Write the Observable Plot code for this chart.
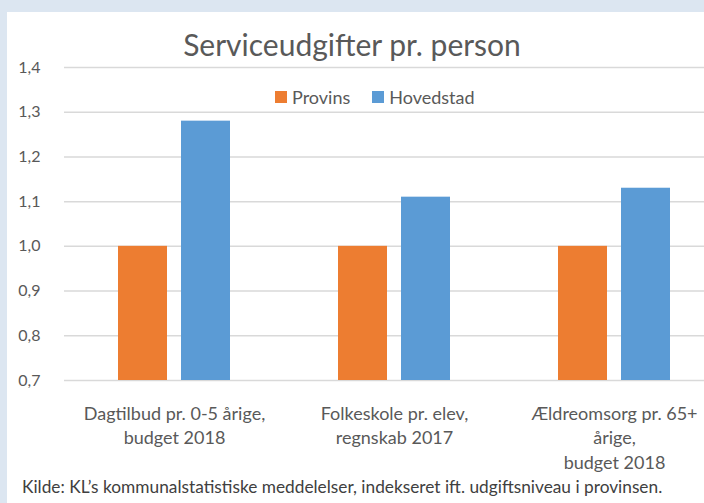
<!DOCTYPE html>
<html>
<head>
<meta charset="utf-8">
<script src="https://cdn.jsdelivr.net/npm/d3@7"></script>
<script src="https://cdn.jsdelivr.net/npm/@observablehq/plot@0.6"></script>
<style>
  html, body { margin: 0; padding: 0; width: 704px; height: 503px; overflow: hidden; background: #dce6f1; font-family: Lato, "Open Sans", sans-serif; color: #595959; }
  #panel { position: absolute; left: 7px; top: 12px; width: 697px; height: 491px; background: #ffffff; }
  #chart { position: absolute; left: 0; top: 0; width: 704px; height: 503px; overflow: hidden; }
  #chart svg { position: absolute; left: 0; top: 0; background: transparent; overflow: hidden; max-width: none !important; width: 724px; height: 480px; }
  .title { position: absolute; left: 0; width: 704px; top: 29px; text-align: center; font-size: 30px; line-height: 1; color: #595959; white-space: nowrap; }
  .legend { position: absolute; left: 275px; top: 87px; font-size: 18px; line-height: 1; white-space: nowrap; }
  .legend span.item { display: inline-flex; align-items: center; margin-right: 22px; }
  .legend span.sw { display: inline-block; width: 12px; height: 12px; margin-right: 5px; }
  .caption { position: absolute; left: 22px; top: 478px; font-size: 17.3px; line-height: 1; white-space: nowrap; color: #404040; }
</style>
</head>
<body>
<div id="panel"></div>
<div id="chart"></div>
<div class="title" id="title"></div>
<div class="legend" id="legend"></div>
<div class="caption" id="caption"></div>
<script>
const categories = ["Dagtilbud pr. 0-5 årige,\nbudget 2018", "Folkeskole pr. elev,\nregnskab 2017", "Ældreomsorg pr. 65+\nårige,\nbudget 2018"];
const seriesNames = ["Provins", "Hovedstad"];
const provins = [1.00, 1.00, 1.00];
const hovedstad = [1.28, 1.11, 1.13];
const yTicks = [0.7, 0.8, 0.9, 1.0, 1.1, 1.2, 1.3, 1.4];
const seriesColors = ["#ED7D31", "#5B9BD5"];
const titleText = "Serviceudgifter pr. person";
const captionText = "Kilde: KL\u2019s kommunalstatistiske meddelelser, indekseret ift. udgiftsniveau i provinsen.";

const data = [];
categories.forEach((c, i) => {
  data.push({cat: c, series: seriesNames[0], value: provins[i]});
  data.push({cat: c, series: seriesNames[1], value: hovedstad[i]});
});

const fmt = d => d.toFixed(1).replace(".", ",");

const plot = Plot.plot({
  width: 724,
  height: 480,
  marginLeft: 64,
  marginRight: 0,
  marginTop: 67,
  marginBottom: 100,
  style: {background: "transparent", fontFamily: "Lato, 'Open Sans', sans-serif", color: "#595959", maxWidth: "none"},
  fx: {domain: categories, padding: 0, label: null},
  x: {domain: seriesNames, paddingInner: 0.222, paddingOuter: 0.857, axis: null},
  y: {domain: [0.7, 1.4], label: null},
  color: {domain: seriesNames, range: seriesColors},
  marks: [
    Plot.gridY(yTicks, {stroke: "#d9d9d9", strokeOpacity: 1, strokeWidth: 1.5}),
    Plot.barY(data, {fx: "cat", x: "series", y1: 0.7, y2: "value", fill: "series"}),
    Plot.axisY(yTicks, {tickSize: 0, tickPadding: 24, tickFormat: fmt, fontSize: 16, fill: "#595959", label: null}),
    Plot.axisFx({anchor: "bottom", tickSize: 0, tickPadding: 22, fontSize: 18, lineHeight: 1.36, fill: "#595959", label: null})
  ]
});
document.getElementById("chart").appendChild(plot);

document.getElementById("title").textContent = titleText;
const lg = document.getElementById("legend");
seriesNames.forEach((s, i) => {
  const item = document.createElement("span");
  item.className = "item";
  const sw = document.createElement("span");
  sw.className = "sw";
  sw.style.background = seriesColors[i];
  item.appendChild(sw);
  item.appendChild(document.createTextNode(s));
  lg.appendChild(item);
});
document.getElementById("caption").textContent = captionText;
</script>
</body>
</html>
